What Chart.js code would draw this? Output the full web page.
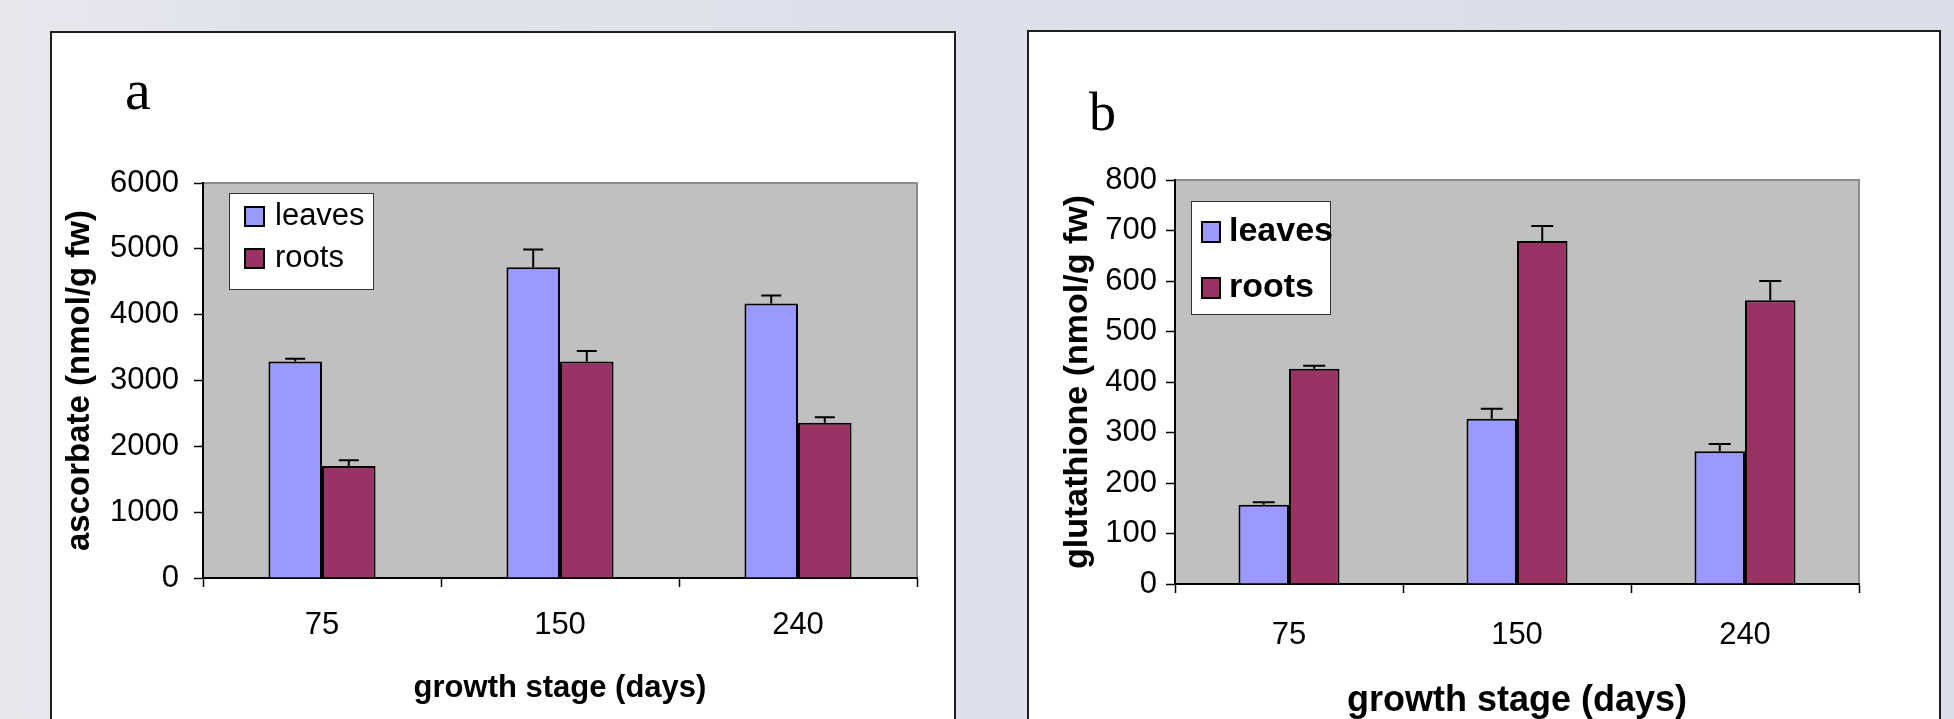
<!DOCTYPE html>
<html>
<head>
<meta charset="utf-8">
<script src="https://cdn.jsdelivr.net/npm/chart.js@4.4.1/dist/chart.umd.min.js"></script>
<style>
  html, body { margin: 0; padding: 0; }
  body {
    width: 1954px; height: 719px; overflow: hidden; position: relative;
    background: linear-gradient(90deg, #e9e8ef 0%, #e1e3ec 12%, #dde0ea 50%, #dadee9 100%);
  }
  .frame { position: absolute; background: #fff; border: 2px solid #1e1e1e; box-sizing: border-box; }
  .panel-label { position: absolute; font-family: "Liberation Serif", "Times New Roman", serif; line-height: 1; color: #000; }
  canvas { position: absolute; }
</style>
</head>
<body>
<div class="frame" style="left:50px; top:31px; width:906px; height:720px;"></div>
<div class="frame" style="left:1027px; top:30px; width:914px; height:720px;"></div>
<div class="panel-label" style="left:125px; top:61px; font-size:58px;">a</div>
<div class="panel-label" style="left:1089px; top:85px; font-size:54px;">b</div>
<canvas id="chartA" width="902" height="686" style="left:52px; top:33px;"></canvas>
<canvas id="chartB" width="910" height="687" style="left:1029px; top:32px;"></canvas>
<script>
// growth stages (days)
const categories = ['75', '150', '240'];
const seriesNames = ['leaves', 'roots'];
const seriesColors = ['#9999ff', '#993366'];

// panel a: ascorbate (nmol/g fw)
const ascorbateLeaves = [3290, 4720, 4170];
const ascorbateRoots = [1700, 3290, 2360];
const ascorbateLeavesErr = [40, 270, 120];
const ascorbateRootsErr = [90, 160, 80];
const ascorbateTicks = [0, 1000, 2000, 3000, 4000, 5000, 6000];

// panel b: glutathione (nmol/g fw)
const glutathioneLeaves = [157, 327, 263];
const glutathioneRoots = [426, 679, 562];
const glutathioneLeavesErr = [5, 20, 14];
const glutathioneRootsErr = [6, 30, 38];
const glutathioneTicks = [0, 100, 200, 300, 400, 500, 600, 700, 800];

const sans = '"Liberation Sans", Arial, sans-serif';

// grey plot area with the darker rim on top and right
const plotBackground = {
  id: 'plotBackground',
  beforeDraw(chart) {
    const {ctx, chartArea: a} = chart;
    ctx.save();
    ctx.fillStyle = '#c0c0c0';
    ctx.fillRect(a.left, a.top, a.right - a.left, a.bottom - a.top);
    ctx.strokeStyle = '#8c8c8c';
    ctx.lineWidth = 2;
    ctx.beginPath();
    ctx.moveTo(a.left, a.top);
    ctx.lineTo(a.right, a.top);
    ctx.lineTo(a.right, a.bottom);
    ctx.stroke();
    ctx.restore();
  }
};

// upper error bars from each dataset's errors list
const errorBars = {
  id: 'errorBars',
  afterDatasetsDraw(chart, args, opts) {
    const {ctx} = chart;
    const y = chart.scales.y;
    ctx.save();
    ctx.strokeStyle = '#000';
    ctx.lineWidth = 2;
    chart.data.datasets.forEach((ds, i) => {
      chart.getDatasetMeta(i).data.forEach((bar, j) => {
        const top = y.getPixelForValue(ds.data[j] + ds.errors[j]);
        ctx.beginPath();
        ctx.moveTo(bar.x, bar.y);
        ctx.lineTo(bar.x, top);
        ctx.moveTo(bar.x - opts.cap, top);
        ctx.lineTo(bar.x + opts.cap, top);
        ctx.stroke();
      });
    });
    ctx.restore();
  }
};

// boxed legend inside the plot area, like the excel one
const boxLegend = {
  id: 'boxLegend',
  afterDraw(chart, args, o) {
    const {ctx} = chart;
    ctx.save();
    ctx.fillStyle = '#fff';
    ctx.fillRect(o.x, o.y, o.w, o.h);
    ctx.strokeStyle = '#333';
    ctx.lineWidth = 1;
    ctx.strokeRect(o.x + 0.5, o.y + 0.5, o.w, o.h);
    chart.data.datasets.forEach((ds, i) => {
      const sy = o.rows[i];
      ctx.fillStyle = ds.backgroundColor;
      ctx.fillRect(o.sx, sy, o.sw, o.sh);
      ctx.lineWidth = 2;
      ctx.strokeStyle = '#000';
      ctx.strokeRect(o.sx, sy, o.sw, o.sh);
      ctx.fillStyle = '#000';
      ctx.font = o.font;
      ctx.textBaseline = 'alphabetic';
      ctx.fillText(ds.label, o.tx, sy + o.sh - 1);
    });
    ctx.restore();
  }
};

function makeChart(id, cfg) {
  const datasets = [cfg.leaves, cfg.roots].map((vals, i) => ({
    label: seriesNames[i],
    data: vals,
    errors: [cfg.leavesErr, cfg.rootsErr][i],
    backgroundColor: seriesColors[i],
    borderColor: '#000',
    borderWidth: 2,
    categoryPercentage: cfg.groupWidth,
    barPercentage: 1
  }));
  return new Chart(document.getElementById(id), {
    type: 'bar',
    data: { labels: categories, datasets: datasets },
    plugins: [plotBackground, errorBars, boxLegend],
    options: {
      responsive: false,
      animation: false,
      devicePixelRatio: 1,
      layout: { padding: { top: cfg.padTop, right: cfg.padRight, left: 0, bottom: 0 } },
      plugins: {
        legend: { display: false },
        tooltip: { enabled: false },
        errorBars: { cap: cfg.cap },
        boxLegend: cfg.legend
      },
      scales: {
        x: {
          offset: true,
          ticks: { color: '#000', font: { family: sans, size: 31 }, padding: cfg.xTickPad },
          grid: { offset: true, drawOnChartArea: false, tickLength: 9, tickColor: '#000', tickWidth: 1.5 },
          border: { display: true, color: '#000', width: 2 },
          title: {
            display: true, text: 'growth stage (days)', color: '#000',
            font: { family: sans, size: cfg.xTitleSize, weight: 'bold' },
            padding: { top: 0, bottom: cfg.xTitlePad }
          },
          afterFit(scale) { scale.height = cfg.xHeight; }
        },
        y: {
          min: cfg.ticks[0],
          max: cfg.ticks[cfg.ticks.length - 1],
          afterBuildTicks(scale) { scale.ticks = cfg.ticks.map(v => ({ value: v })); },
          ticks: { color: '#000', font: { family: sans, size: 31 }, padding: cfg.yTickPad, callback: v => String(v) },
          grid: { drawOnChartArea: false, tickLength: 9, tickColor: '#000', tickWidth: 1.5 },
          border: { display: true, color: '#000', width: 2 },
          title: {
            display: true, text: cfg.yTitle, color: '#000',
            font: { family: sans, size: cfg.yTitleSize, weight: 'bold' },
            padding: { top: cfg.yTitlePad, bottom: 0 }
          },
          afterFit(scale) { scale.width = cfg.yWidth; }
        }
      }
    }
  });
}

makeChart('chartA', {
  leaves: ascorbateLeaves, roots: ascorbateRoots,
  leavesErr: ascorbateLeavesErr, rootsErr: ascorbateRootsErr,
  ticks: ascorbateTicks, yTitle: 'ascorbate (nmol/g fw)',
  groupWidth: 0.45, cap: 10,
  padTop: 150, padRight: 37, yWidth: 151, xHeight: 141,
  xTickPad: 20, yTickPad: 15, xTitleSize: 31, xTitlePad: 12, yTitleSize: 33, yTitlePad: 8,
  legend: { x: 177, y: 160, w: 144, h: 96, sx: 193, sw: 19, sh: 19, rows: [174, 216], tx: 223, font: '31px ' + sans }
});

makeChart('chartB', {
  leaves: glutathioneLeaves, roots: glutathioneRoots,
  leavesErr: glutathioneLeavesErr, rootsErr: glutathioneRootsErr,
  ticks: glutathioneTicks, yTitle: 'glutathione (nmol/g fw)',
  groupWidth: 0.443, cap: 11,
  padTop: 148, padRight: 80, yWidth: 146, xHeight: 135,
  xTickPad: 24, yTickPad: 9, xTitleSize: 36, xTitlePad: -4, yTitleSize: 34, yTitlePad: 28,
  legend: { x: 162, y: 169, w: 139, h: 113, sx: 173, sw: 18, sh: 20, rows: [190, 246], tx: 200, font: 'bold 34px ' + sans }
});
</script>
</body>
</html>
